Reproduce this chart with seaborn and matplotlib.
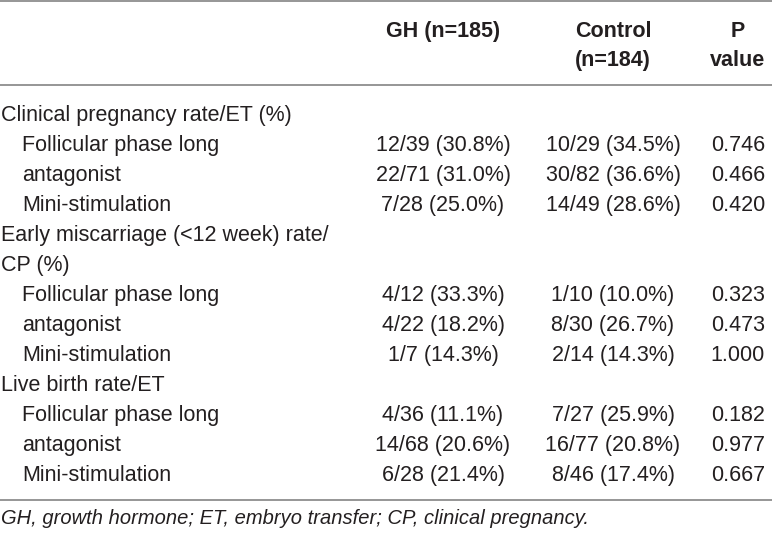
import matplotlib
matplotlib.use("Agg")
import matplotlib.pyplot as plt
import seaborn as sns

# Table content
headers = ["GH (n=185)", "Control\n(n=184)", "P\nvalue"]
row_labels = [
    "Clinical pregnancy rate/ET (%)",
    "Follicular phase long",
    "antagonist",
    "Mini-stimulation",
    "Early miscarriage (<12 week) rate/",
    "CP (%)",
    "Follicular phase long",
    "antagonist",
    "Mini-stimulation",
    "Live birth rate/ET",
    "Follicular phase long",
    "antagonist",
    "Mini-stimulation",
]
indented = [False, True, True, True, False, False, True, True, True, False, True, True, True]
gh_values = ["", "12/39 (30.8%)", "22/71 (31.0%)", "7/28 (25.0%)", "", "",
             "4/12 (33.3%)", "4/22 (18.2%)", "1/7 (14.3%)", "",
             "4/36 (11.1%)", "14/68 (20.6%)", "6/28 (21.4%)"]
control_values = ["", "10/29 (34.5%)", "30/82 (36.6%)", "14/49 (28.6%)", "", "",
                  "1/10 (10.0%)", "8/30 (26.7%)", "2/14 (14.3%)", "",
                  "7/27 (25.9%)", "16/77 (20.8%)", "8/46 (17.4%)"]
p_values = ["", "0.746", "0.466", "0.420", "", "",
            "0.323", "0.473", "1.000", "",
            "0.182", "0.977", "0.667"]
footnote = "GH, growth hormone; ET, embryo transfer; CP, clinical pregnancy."

sns.set_theme(style="white")
plt.rcParams["font.family"] = ["Liberation Sans", "DejaVu Sans"]

text_color = "#231f20"
line_color = "#8e8e8e"
fs = 15.5

fig = plt.figure(figsize=(7.72, 5.34), dpi=100)
ax = fig.add_axes([0, 0, 1, 1])
ax.set_xlim(0, 772)
ax.set_ylim(534, 0)
ax.axis("off")

col_x = [443, 613, 738]

# rules
for y in [1, 85, 500]:
    ax.hlines(y, 0, 772, color=line_color, lw=1.3)

# header
for x, h in zip(col_x, headers):
    for k, ln in enumerate(h.split("\n")):
        ax.text(x, 37 + 29 * k, ln, ha="center", va="baseline", fontsize=fs,
                fontweight="bold", color=text_color)

# body
for i, label in enumerate(row_labels):
    yb = 121 + 30 * i
    ax.text(22 if indented[i] else 1, yb, label, ha="left", va="baseline",
            fontsize=fs, color=text_color)
    for x, vals in zip(col_x, [gh_values, control_values, p_values]):
        if vals[i]:
            ax.text(x, yb, vals[i], ha="center", va="baseline", fontsize=fs,
                    color=text_color)

ax.text(1, 524, footnote, ha="left", va="baseline", fontsize=14.5,
        style="italic", color=text_color)

fig.savefig("out.png", dpi=100)
